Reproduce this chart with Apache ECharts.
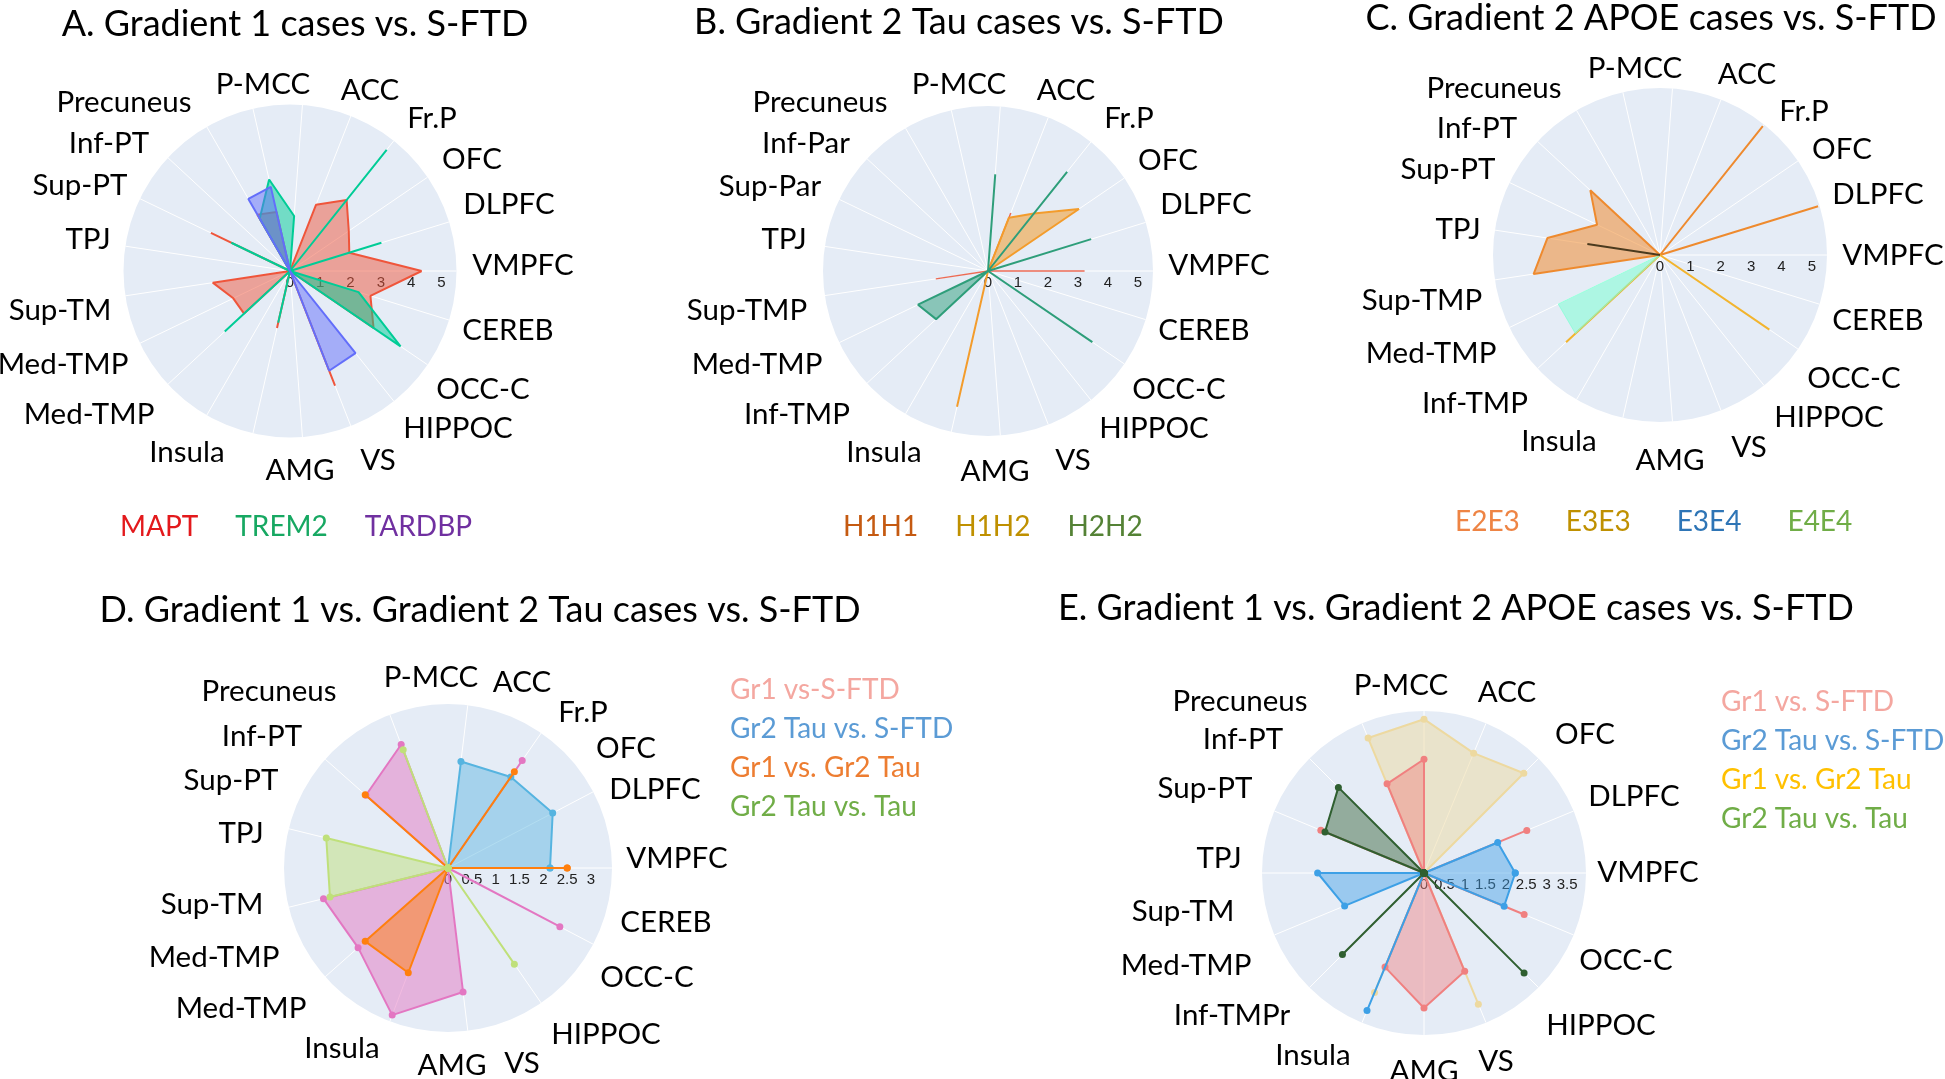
<!DOCTYPE html>
<html>
<head>
<meta charset="utf-8">
<script src="https://cdn.jsdelivr.net/npm/echarts@6/dist/echarts.min.js"></script>
<style>
html,body{margin:0;padding:0;background:#ffffff;}
#chart{width:1945px;height:1079px;}
</style>
</head>
<body>
<div id="chart"></div>
<script>
// ================= DATA =================
// Radial values per angular category; categories run counter-clockwise from east.
// Panel A (21 angular categories)
const aMAPT   = [4.35,2.05,2.35,3.00,2.35,0,2.00,2.15,0,2.90,0,2.58,2.08,2.07,0,1.93,0,4.07,0,3.34,2.78];
const aTREM2  = [0,3.16,0,5.12,0,1.82,3.10,2.00,0,2.15,0,0,0,2.94,0,1.75,0,0,0,4.42,2.37];
const aTARDBP = [0,0,0,0,0,0,2.85,2.75,0,0,0,0,0,0,0,0,0,3.54,3.47,0,0];
// Panel B (21)
const bH1H1 = [3.22,0,0,0,2.08,0,0,0,0,0,0,1.76,0,0,0,0,0,0,0,0,0];
const bH1H2 = [0,0,3.67,2.45,1.91,0,0,0,0,0,0,0,0,0,0,4.64,0,0,0,0,0];
const bH2H2 = [0,3.60,0,4.23,0,3.23,0,0,0,0,0,0,2.59,2.36,0,0,0,0,0,4.21,0];
// Panel C (21)
const cE2E3 = [0,5.45,0,5.43,0,0,0,0,3.13,2.30,3.75,4.21,0,0,0,0,0,0,0,0,0];
const cE3E3 = [0,0,0,0,0,0,0,0,0,0,0,0,0,4.22,0,0,0,0,0,4.36,0];
const cE3E4 = [0,0,0,0,0,0,0,0,0,0,0,0,3.72,3.80,0,0,0,0,0,0,0];
const cE4E4 = [0,0,0,0,0,0,0,0,0,0,2.42,0,0,0,0,0,0,0,0,0,0];
// Panel D (13)
const dGr1SFTD = [0,0,2.74,0,2.77,2.30,0,2.69,2.52,3.30,2.62,0,2.65];
const dGr2SFTD = [2.14,2.48,2.32,2.25,0,0,0,0,0,0,0,0,0];
const dGr1Gr2  = [2.50,0,2.45,0,0,2.32,0,0,2.32,2.35,0,0,0];
const dGr2Tau  = [0,0,0,0,2.65,0,2.63,2.55,0,0,0,2.45,0];
// Panel E (16)
const eGr1SFTD = [0,2.72,0,0,2.78,2.36,0,2.73,0,0,0,2.49,3.30,2.60,0,2.65];
const eGr2SFTD = [2.23,1.95,0,0,0,0,0,0,2.60,2.10,0,3.64,0,0,0,2.12];
const eGr1Gr2  = [0,0,3.45,3.17,3.76,3.57,0,0,0,0,0,3.16,0,3.47,0,0];
const eGr2Tau  = [0,0,0,0,0,0,2.96,2.62,0,0,2.82,0,0,0,3.46,0];

// Radial axis ranges / tick steps
const radialMax  = [5.5, 5.5, 5.5, 3.44, 3.96];
const radialStep = [1, 1, 1, 0.5, 0.5];

// Titles
const titles = [
  'A. Gradient 1 cases vs. S-FTD',
  'B. Gradient 2 Tau cases vs. S-FTD',
  'C. Gradient 2 APOE cases vs. S-FTD',
  'D. Gradient 1 vs. Gradient 2 Tau cases vs. S-FTD',
  'E. Gradient 1 vs. Gradient 2 APOE cases vs. S-FTD'
];

// Region labels around each disc
const labelsA = ['VMPFC','DLPFC','OFC','Fr.P','ACC','P-MCC','Precuneus','Inf-PT','Sup-PT','TPJ','Sup-TM','Med-TMP','Med-TMP','Insula','AMG','VS','HIPPOC','OCC-C','CEREB'];
const labelsB = ['VMPFC','DLPFC','OFC','Fr.P','ACC','P-MCC','Precuneus','Inf-Par','Sup-Par','TPJ','Sup-TMP','Med-TMP','Inf-TMP','Insula','AMG','VS','HIPPOC','OCC-C','CEREB'];
const labelsC = ['VMPFC','DLPFC','OFC','Fr.P','ACC','P-MCC','Precuneus','Inf-PT','Sup-PT','TPJ','Sup-TMP','Med-TMP','Inf-TMP','Insula','AMG','VS','HIPPOC','OCC-C','CEREB'];
const labelsD = ['VMPFC','DLPFC','OFC','Fr.P','ACC','P-MCC','Precuneus','Inf-PT','Sup-PT','TPJ','Sup-TM','Med-TMP','Med-TMP','Insula','AMG','VS','HIPPOC','OCC-C','CEREB'];
const labelsE = ['VMPFC','DLPFC','OFC','ACC','P-MCC','Precuneus','Inf-PT','Sup-PT','TPJ','Sup-TM','Med-TMP','Inf-TMPr','Insula','AMG','VS','HIPPOC','OCC-C'];

// Series / legend names
const namesA = ['MAPT','TREM2','TARDBP'];
const namesB = ['H1H1','H1H2','H2H2'];
const namesC = ['E2E3','E3E3','E3E4','E4E4'];
const namesD = ['Gr1 vs-S-FTD','Gr2 Tau vs. S-FTD','Gr1 vs. Gr2 Tau','Gr2 Tau vs. Tau'];
const namesE = ['Gr1 vs. S-FTD','Gr2 Tau vs. S-FTD','Gr1 vs. Gr2 Tau','Gr2 Tau vs. Tau'];

// ================= LAYOUT & STYLE =================
const FONT = 'Lato';
const polarLayout = [
  {center:[290,271], radius:166.5},
  {center:[988,271], radius:165},
  {center:[1660,255], radius:167},
  {center:[448,868], radius:164},
  {center:[1424,873], radius:162}
];
const titlePos = [[295,24],[959,22],[1651,18],[480,610],[1456,608]];

const posA = [[523,265],[509,204],[472,159],[432,118],[370,90],[263,84],[124,102],[109,143],[80,185],[88,239],[60,310],[63,364],[89,414],[187,452],[300,470],[378,460],[458,428],[483,389],[508,330]];
const posB = [[1219,265],[1206,204],[1168,160],[1129,118],[1066,90],[959,84],[820,102],[806,143],[770,186],[784,239],[747,310],[757,364],[797,414],[884,452],[995,471],[1073,460],[1154,428],[1179,389],[1204,330]];
const posC = [[1893,255],[1878,194],[1842,149],[1804,111],[1747,74],[1635,68],[1494,88],[1477,128],[1448,169],[1458,229],[1422,300],[1431,353],[1475,403],[1559,441],[1670,460],[1749,447],[1829,417],[1854,378],[1878,320]];
const posD = [[677,858],[655,789],[626,748],[583,712],[522,682],[431,677],[269,691],[262,736],[231,780],[241,833],[212,904],[214,957],[241,1008],[342,1048],[452,1065],[522,1063],[606,1034],[647,977],[666,922]];
const posE = [[1648,872],[1634,796],[1585,734],[1507,692],[1401,685],[1240,701],[1243,739],[1205,788],[1219,858],[1183,911],[1186,965],[1232,1015],[1313,1055],[1424,1071],[1496,1061],[1601,1025],[1626,960]];

// series styles: [line colour, fill colour, line width]
const styleA = [['#EF553B','rgba(239,85,59,0.5)',2],['#00CC96','rgba(0,204,150,0.5)',2],['#636EFA','rgba(99,110,250,0.5)',2]];
const styleB = [['#EB6B55','rgba(235,107,85,0.5)',1.5],['#F39C2C','rgba(243,156,44,0.55)',2],['#2E9E7A','rgba(46,158,122,0.5)',2]];
const styleC = [['#EE8A2E','rgba(240,140,50,0.55)',2],['#F2B42E','rgba(242,180,46,0.5)',2],['rgba(127,255,212,0.7)','rgba(127,255,212,0.55)',1],['#4B3A1E','rgba(75,58,30,0.5)',2]];
const styleD = [['#E377C2','rgba(227,119,194,0.5)',2],['#56B4E0','rgba(86,180,224,0.45)',2],['#FF7F0E','rgba(255,127,14,0.5)',2],['#BFE07A','rgba(191,224,122,0.5)',2]];
const styleE = [['#EDD9A0','rgba(237,217,160,0.5)',2],['#F08080','rgba(240,128,128,0.45)',2],['#3DA0E6','rgba(61,160,230,0.45)',2],['#2F5F30','rgba(47,95,48,0.45)',2]];

// legend text colours
const legendColA = ['#E3191C','#17A862','#7030A0'];
const legendColB = ['#C55A11','#BF9000','#548235'];
const legendColC = ['#EE8444','#BF9000','#2E75B6','#70AD47'];
const legendColD = ['#F4A7A0','#5B9BD5','#ED7D31','#70AD47'];
const legendColE = ['#F4A7A0','#5B9BD5','#FFC000','#70AD47'];

const TITLE_SIZE = 36, LABEL_SIZE = 29.5, LEGEND_SIZE = 28, TICK_SIZE = 15;

// ================= BUILD OPTION =================
const panels = [
  {vals:[aMAPT,aTREM2,aTARDBP], names:namesA, style:styleA, marker:false, labels:labelsA, pos:posA, legendCol:legendColA,
   legend:{left:115, top:510, orient:'horizontal', itemGap:32}},
  {vals:[bH1H1,bH1H2,bH2H2], names:namesB, style:styleB, marker:false, labels:labelsB, pos:posB, legendCol:legendColB,
   legend:{left:838, top:510, orient:'horizontal', itemGap:32}},
  {vals:[cE2E3,cE3E3,cE3E4,cE4E4], names:namesC, style:styleC, marker:false, labels:labelsC, pos:posC, legendCol:legendColC,
   legend:{left:1450, top:505, orient:'horizontal', itemGap:41}},
  // draw order: pink, blue, orange, green
  {vals:[dGr1SFTD,dGr2SFTD,dGr1Gr2,dGr2Tau], names:namesD, style:styleD, marker:true, labels:labelsD, pos:posD, legendCol:legendColD,
   legend:{left:725, top:673, orient:'vertical', itemGap:5}},
  // draw order: beige, pink, blue, dark green
  {vals:[eGr1Gr2,eGr1SFTD,eGr2SFTD,eGr2Tau], names:[namesE[2],namesE[0],namesE[1],namesE[3]], style:styleE, marker:true, labels:labelsE, pos:posE, legendCol:legendColE,
   legendNames:namesE, legend:{left:1716, top:685, orient:'vertical', itemGap:5}}
];

function closedLoop(vals){
  // [radius, categoryIndex]; repeat the first category at index n to close the shape
  return vals.concat([vals[0]]).map((r,i)=>[r,i]);
}

const option = {
  animation:false,
  backgroundColor:'#ffffff',
  textStyle:{fontFamily:FONT},
  title:[], polar:[], angleAxis:[], radiusAxis:[], legend:[], series:[],
  graphic:{elements:[]}
};

panels.forEach((p,pi)=>{
  const n = p.vals[0].length;
  option.title.push({
    text:titles[pi], left:titlePos[pi][0], top:titlePos[pi][1], padding:0,
    textAlign:'center', textVerticalAlign:'middle',
    textStyle:{fontFamily:FONT, fontSize:TITLE_SIZE, fontWeight:'normal', color:'#000'}
  });
  option.polar.push({center:polarLayout[pi].center, radius:polarLayout[pi].radius});
  option.angleAxis.push({
    polarIndex:pi, type:'value', min:0, max:n, interval:1,
    startAngle:0, clockwise:false,
    axisLine:{show:false}, axisTick:{show:false}, axisLabel:{show:false},
    splitLine:{show:true, lineStyle:{color:'#ffffff', width:1}}
  });
  option.radiusAxis.push({
    polarIndex:pi, type:'value', min:0, max:radialMax[pi], interval:radialStep[pi],
    axisLine:{show:false}, axisTick:{show:false},
    axisLabel:{show:true, color:'#222', fontSize:TICK_SIZE, fontFamily:'Liberation Sans',
      margin:-4, verticalAlign:'top', showMaxLabel:false, showMinLabel:true, hideOverlap:false},
    splitLine:{show:true, lineStyle:{color:'#ffffff', width:1}},
    splitArea:{show:true, areaStyle:{color:['#E5ECF6']}}
  });
  p.vals.forEach((v,si)=>{
    const st = p.style[si];
    option.series.push({
      type:'line', name:p.names[si], coordinateSystem:'polar', polarIndex:pi,
      data:closedLoop(v),
      symbol:p.marker?'circle':'none', symbolSize:7, showSymbol:p.marker,
      lineStyle:{color:st[0], width:st[2]},
      itemStyle:{color:st[0]},
      areaStyle:{color:st[1], opacity:1},
      silent:true, z:2+si
    });
  });
  const lnames = p.legendNames || p.names;
  option.legend.push(Object.assign({
    selectedMode:false, padding:0, icon:'none', itemWidth:0, itemHeight:0,
    textStyle:{fontFamily:FONT, fontSize:LEGEND_SIZE, lineHeight:34},
    data:lnames.map((nm,k)=>({name:nm, textStyle:{color:p.legendCol[k]}}))
  }, p.legend));
  p.labels.forEach((lab,k)=>{
    option.graphic.elements.push({
      type:'text', x:p.pos[k][0], y:p.pos[k][1], silent:true,
      style:{text:lab, font:LABEL_SIZE+'px '+FONT, fill:'#000', align:'center', verticalAlign:'middle', textAlign:'center', textVerticalAlign:'middle'}
    });
  });
});

const chart = echarts.init(document.getElementById('chart'), null, {renderer:'canvas'});
chart.setOption(option);
</script>
</body>
</html>
